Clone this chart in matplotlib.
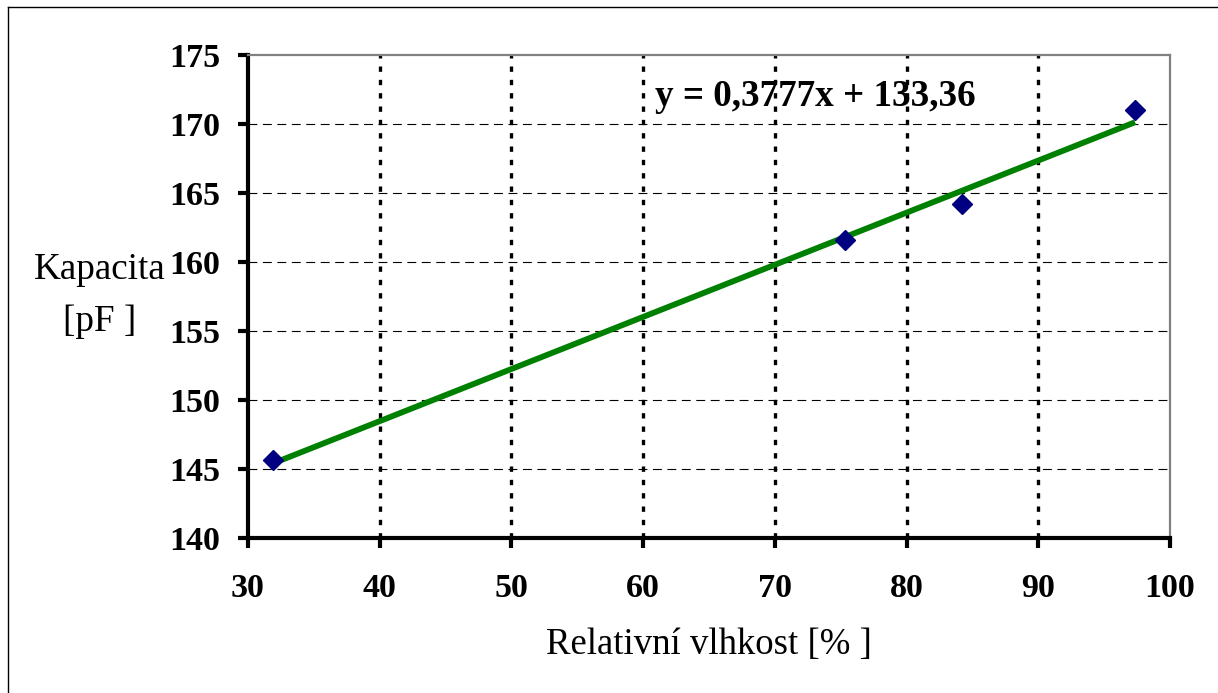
import matplotlib
matplotlib.use("Agg")
import matplotlib.pyplot as plt
from matplotlib.lines import Line2D
import numpy as np

# Measured humidity / capacitance pairs
humidity = [31.9, 75.3, 84.2, 97.35]
capacitance = [145.65, 161.6, 164.2, 171.0]

# Linear trend coefficients
slope = 0.3777
intercept = 133.36

x_ticks = [30, 40, 50, 60, 70, 80, 90, 100]
y_ticks = [140, 145, 150, 155, 160, 165, 170, 175]

plt.rcParams['font.family'] = ['Liberation Serif', 'DejaVu Serif']

W, H = 1218, 693
fig = plt.figure(figsize=(W / 100, H / 100), dpi=100)
fig.patch.set_facecolor('white')

ax = fig.add_axes([248 / W, 1 - 538 / H, (1170 - 248) / W, (538 - 55) / H])
ax.set_xlim(30, 100)
ax.set_ylim(140, 175)

# Grid: dotted verticals, dashed horizontals
for xv in x_ticks[1:-1]:
    ax.axvline(xv, color='black', lw=2.4, linestyle=(0, (1.6, 2.4)), zorder=1)
ax.axvline(100, color='#606060', lw=2.0, linestyle=(0, (1.6, 2.6)), zorder=1)
for yv in y_ticks[1:-1]:
    ax.axhline(yv, color='black', lw=0.8, linestyle=(0, (8, 5)), zorder=1)

# Trend line over the measured range
xs = np.array([min(humidity), max(humidity)])
ax.plot(xs, slope * xs + intercept, color='#008000', lw=4.2,
        solid_capstyle='butt', zorder=3)

ax.plot(humidity, capacitance, linestyle='none', marker='D',
        markersize=10.5, color='#000080', zorder=4)

ax.text(60.9, 172.0, f"y = {slope:.4f}x + {intercept:.2f}".replace('.', ','),
        fontsize=26.7, fontweight='bold', va='center', ha='left', zorder=5)

ax.set_xticks(x_ticks)
ax.set_yticks(y_ticks)
ax.tick_params(axis='both', direction='out', length=7, width=3,
               labelsize=24.5, color='black')
ax.tick_params(axis='y', pad=13)
ax.tick_params(axis='x', pad=18)
for lab in ax.get_xticklabels() + ax.get_yticklabels():
    lab.set_fontweight('bold')

for side in ('left', 'bottom'):
    ax.spines[side].set_linewidth(3)
    ax.spines[side].set_color('black')
for side in ('top', 'right'):
    ax.spines[side].set_linewidth(1.6)
    ax.spines[side].set_color('#808080')

# Axis titles
fig.text(100 / W, 1 - 270 / H, "Kapacita", fontsize=26.7, ha='center', va='center')
fig.text(100 / W, 1 - 322 / H, "[pF ]", fontsize=26.7, ha='center', va='center')
fig.text(709 / W, 1 - 645 / H, "Relativní vlhkost [% ]", fontsize=26.5,
         ha='center', va='center')

# Chart frame (left and top edges)
fig.add_artist(Line2D([8 / W, 8 / W], [0, 1 - 7 / H], transform=fig.transFigure,
                      color='black', lw=1.0))
fig.add_artist(Line2D([8 / W, 1], [1 - 7 / H, 1 - 7 / H], transform=fig.transFigure,
                      color='black', lw=1.0))

fig.savefig('out.png', dpi=100)
